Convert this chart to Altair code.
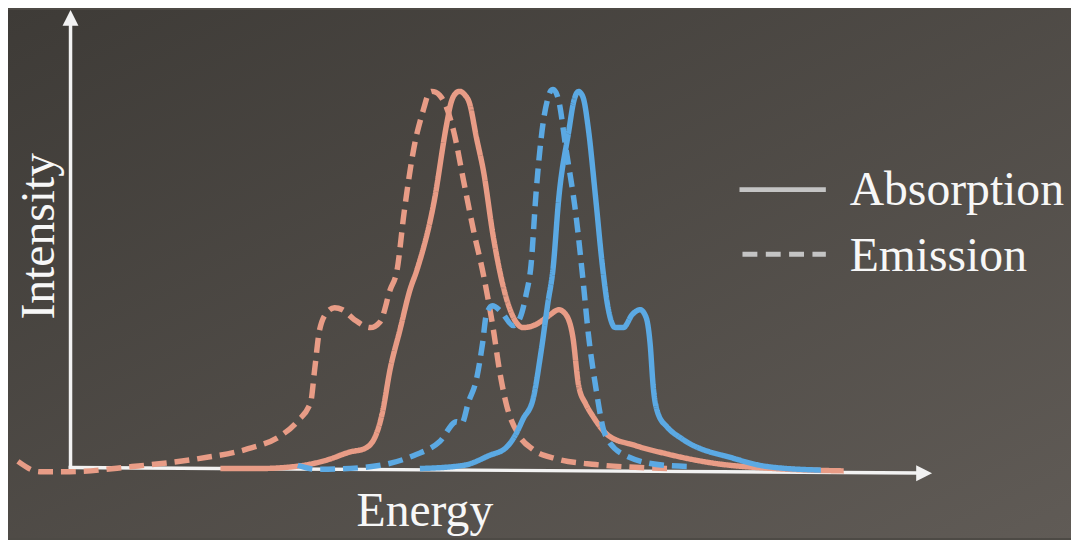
import altair as alt
import pandas as pd

# ---- data (energy and intensity in arbitrary units) ----
red_abs_E = [15.1, 18.9, 22.9, 25.9, 28.2, 29.6, 30.6, 31.4, 32.2, 33.2, 34.2, 34.9, 36.6, 37.9, 38.3, 38.7,
             39.2, 39.7, 40.2, 40.9, 41.6, 42.6, 43.6, 44.4, 45.6, 46.9, 48.2, 49.2, 49.9, 50.6, 51.2, 51.9,
             52.6, 54.2, 56.9, 59.9, 64.9, 70.9, 77.9]
red_abs_I = [0.0, 0.0, 0.6, 2.2, 4.2, 5.0, 7.5, 13.8, 25.0, 35.0, 45.0, 50.0, 66.8, 86.8, 91.8, 94.2,
             95.0, 94.2, 92.0, 83.3, 75.0, 58.3, 45.8, 39.3, 35.5, 36.3, 38.5, 40.0, 38.8, 33.3, 20.8, 16.3,
             13.3, 8.3, 5.8, 3.8, 1.3, 0.0, -0.6]

red_em_E = [-5.3, -3.1, -0.1, 6.2, 12.9, 17.9, 21.2, 22.9, 24.2, 24.6, 25.1, 25.9, 26.6, 27.4, 28.6, 30.2,
            31.2, 32.2, 32.9, 33.6, 34.6, 35.6, 36.0, 36.4, 36.8, 37.2, 37.6, 38.6, 39.6, 40.6, 41.6, 42.6,
            43.2, 43.9, 45.2, 46.6, 48.9, 52.9, 56.9, 60.4]
red_em_I = [1.8, -0.8, -0.8, 0.5, 2.5, 5.0, 8.3, 12.0, 16.8, 25.0, 35.0, 39.5, 40.5, 40.0, 37.5, 35.5,
            37.0, 45.0, 50.0, 64.3, 80.8, 90.8, 94.0, 95.0, 94.8, 94.0, 92.5, 85.0, 72.5, 60.0, 48.8, 35.0,
            25.0, 16.3, 8.3, 4.8, 2.5, 1.0, 0.3, 0.0]

blue_abs_E = [35.2, 39.6, 42.2, 43.9, 44.9, 45.6, 46.6, 47.4, 48.1, 48.6, 49.2, 50.2, 50.7, 51.0, 51.2, 51.4,
              51.7, 52.2, 52.9, 53.6, 54.1, 54.9, 55.7, 56.6, 57.4, 58.0, 58.4, 58.7, 59.2, 60.1, 61.6, 66.9,
              70.2, 75.6]
blue_abs_I = [0.0, 0.8, 3.3, 5.3, 8.8, 12.5, 17.5, 29.3, 41.8, 50.0, 68.3, 85.0, 92.5, 94.6, 95.0, 94.6,
              93.0, 85.0, 68.3, 50.8, 41.3, 35.5, 35.5, 38.8, 40.0, 38.0, 31.3, 20.8, 13.8, 10.5, 7.5, 2.5,
              0.5, -0.4]

blue_em_E = [22.9, 24.9, 29.6, 34.6, 37.2, 38.9, 39.4, 40.1, 40.9, 41.5, 41.9, 42.5, 43.4, 44.6, 45.3, 45.9,
             46.4, 46.9, 47.6, 48.1, 48.4, 48.6, 48.9, 49.2, 49.9, 50.9, 51.6, 52.2, 52.9, 53.9, 55.9, 59.9,
             62.7]
blue_em_I = [0.8, -0.2, 0.3, 3.3, 6.8, 11.8, 11.3, 16.8, 22.5, 31.3, 38.8, 41.0, 39.5, 36.0, 38.0, 43.8,
             51.3, 69.3, 86.8, 93.3, 95.2, 95.5, 94.8, 92.5, 80.8, 64.3, 48.3, 33.3, 20.8, 8.3, 3.3, 0.8,
             0.5]

legend_labels = ["Absorption", "Emission"]
x_title = "Energy"
y_title = "Intensity"

# ---- build table ----
def frame(E, I, family, kind):
    return pd.DataFrame({"energy": E, "intensity": I, "family": family, "kind": kind,
                         "series": family + "-" + kind, "idx": range(len(E))})

df = pd.concat([
    frame(red_abs_E, red_abs_I, "red", "Absorption"),
    frame(red_em_E, red_em_I, "red", "Emission"),
    frame(blue_em_E, blue_em_I, "blue", "Emission"),
    frame(blue_abs_E, blue_abs_I, "blue", "Absorption"),
], ignore_index=True)

W, H = 1071, 532
xs = alt.Scale(domain=[-6.3, 100.8], nice=False, zero=False)
ys = alt.Scale(domain=[-17.5, 115.5], nice=False, zero=False)
one = pd.DataFrame({"a": [0]})
AX = "#f2f2f2"
FONT = "Liberation Serif"
TXT = "#f7f7f7"
FS = 48

bg = alt.Chart(one).mark_rect(
    color={"gradient": "linear", "x1": 0, "y1": 0, "x2": 1, "y2": 1,
           "stops": [{"offset": 0, "color": "#3e3b37"}, {"offset": 1, "color": "#605b56"}]}
).encode(x=alt.value(0), x2=alt.value(W), y=alt.value(0), y2=alt.value(H))

x_axis = alt.Chart(one).mark_rule(color=AX, strokeWidth=3.5).encode(
    x=alt.value(61), x2=alt.value(918), y=alt.value(461), y2=alt.value(466.5))
y_axis = alt.Chart(one).mark_rule(color=AX, strokeWidth=3.5).encode(
    x=alt.value(63), x2=alt.value(63), y=alt.value(462), y2=alt.value(12))
y_arrow = alt.Chart(one).mark_point(shape="M0,-1L1,1L-1,1Z", filled=True, size=256, color=AX, opacity=1).encode(
    x=alt.value(63), y=alt.value(8))
x_arrow = alt.Chart(one).mark_point(shape="M1,0L-1,-1L-1,1Z", filled=True, size=256, color=AX, opacity=1).encode(
    x=alt.value(923), y=alt.value(466.7))

curves = alt.Chart(df).mark_line(interpolate="monotone", strokeWidth=5.5, strokeCap="butt").encode(
    x=alt.X("energy:Q", scale=xs, axis=None),
    y=alt.Y("intensity:Q", scale=ys, axis=None),
    color=alt.Color("family:N", scale=alt.Scale(domain=["red", "blue"], range=["#e89c86", "#5ba9e3"]), legend=None),
    strokeDash=alt.StrokeDash("kind:N", scale=alt.Scale(domain=legend_labels, range=[[1, 0], [15, 8]]), legend=None),
    detail="series:N",
    order="idx:Q",
)

leg_solid = alt.Chart(one).mark_rule(color="#c4c4c4", strokeWidth=5).encode(
    x=alt.value(737), x2=alt.value(824), y=alt.value(181))
leg_dash = alt.Chart(one).mark_rule(color="#c4c4c4", strokeWidth=5, strokeDash=[15, 8.5]).encode(
    x=alt.value(740), x2=alt.value(824), y=alt.value(246))

leg_text1 = alt.Chart(pd.DataFrame({"t": [legend_labels[0]]})).mark_text(
    font=FONT, fontSize=FS, color=TXT, align="left", baseline="alphabetic").encode(
    x=alt.value(848), y=alt.value(196), text="t:N")
leg_text2 = alt.Chart(pd.DataFrame({"t": [legend_labels[1]]})).mark_text(
    font=FONT, fontSize=FS, color=TXT, align="left", baseline="alphabetic").encode(
    x=alt.value(848), y=alt.value(263), text="t:N")

xt = alt.Chart(pd.DataFrame({"t": [x_title]})).mark_text(
    font=FONT, fontSize=FS, color=TXT, align="center", baseline="alphabetic").encode(
    x=alt.value(420), y=alt.value(520), text="t:N")
yt = alt.Chart(pd.DataFrame({"t": [y_title]})).mark_text(
    font=FONT, fontSize=FS, color=TXT, align="center", baseline="alphabetic", angle=270).encode(
    x=alt.value(46), y=alt.value(228), text="t:N")

chart = alt.layer(bg, x_axis, y_axis, y_arrow, x_arrow, curves, leg_solid, leg_dash,
                  leg_text1, leg_text2, xt, yt).properties(
    width=W, height=H, padding=0, autosize=alt.AutoSizeParams(type="none"),
    background="#4d4a45",
).configure_view(stroke=None)

chart.save("out.html", embed_options={"renderer": "svg", "actions": False})
